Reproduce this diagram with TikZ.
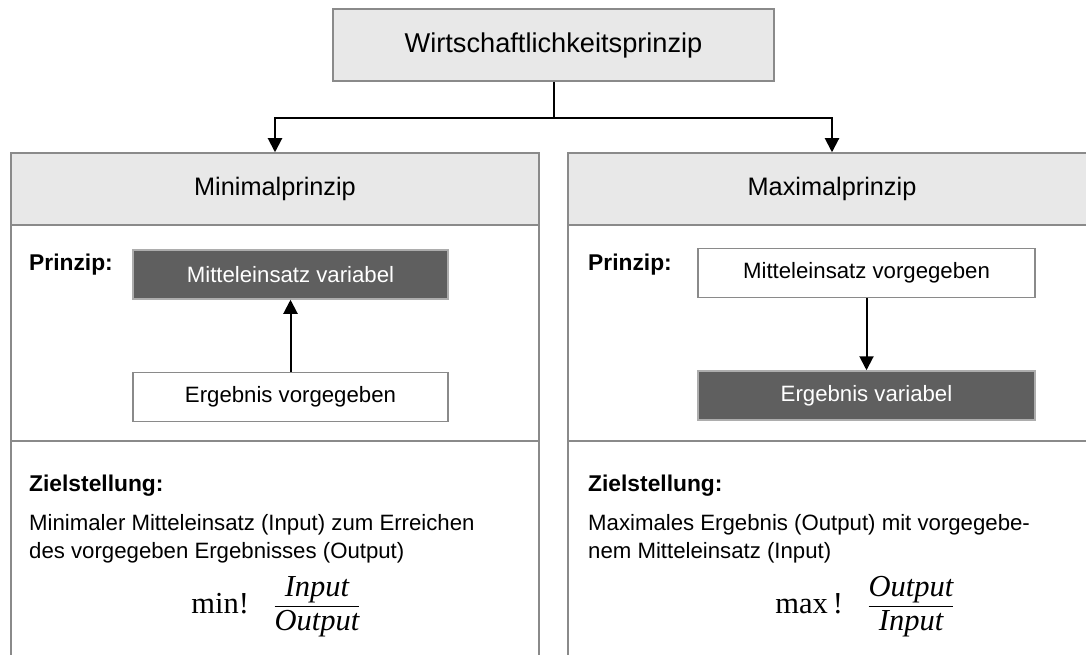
\documentclass[tikz,border=0pt]{standalone}
\usepackage{amsmath}
\usepackage{fontspec}
\setmainfont{Liberation Sans}
\newfontfamily\timesfont{Liberation Serif}
\usetikzlibrary{arrows.meta,positioning}
\definecolor{headgray}{HTML}{E8E8E8}
\definecolor{framegray}{HTML}{8A8A8A}
\definecolor{darkfill}{HTML}{5F5F5F}

\begin{document}
\begin{tikzpicture}[x=1pt,y=-1pt,>={Triangle[width=14pt,length=14pt]},
	headbox/.style={draw=framegray,fill=headgray,line width=1.5pt,minimum height=72pt,font=\fontsize{25.3}{30}\selectfont},
	colframe/.style={draw=framegray,line width=1.8pt},
	darkbox/.style={draw=framegray!70,fill=darkfill,text=white,line width=1.5pt,minimum height=49pt,font=\fontsize{22.2}{26}\selectfont},
	lightbox/.style={draw=framegray,fill=white,line width=1.5pt,minimum height=49pt,font=\fontsize{22.2}{26}\selectfont},
	sectitle/.style={font=\bfseries\fontsize{22.8}{26}\selectfont,anchor=base west,inner sep=0pt},
	bodytext/.style={font=\fontsize{22.2}{28}\selectfont,anchor=base west,align=left,inner sep=0pt},
	formula/.style={font=\timesfont\fontsize{30.5}{36}\selectfont,anchor=base,inner sep=0pt},
	link/.style={line width=2pt}]
	\useasboundingbox (0,0) rectangle (1086,655);
	\clip (0,0) rectangle (1086,655);
	% column frames
	\draw[colframe] (11,660) -- (11,153) -- (539,153) -- (539,660);
	\draw[colframe] (11,441) -- (539,441);
	\draw[colframe] (568,660) -- (568,153) -- (1096,153) -- (1096,660);
	\draw[colframe] (568,441) -- (1096,441);
	% headers
	\node[headbox,minimum width=441pt,font=\fontsize{27.2}{30}\selectfont] (wprinzip) at (553.5,45) {Wirtschaftlichkeitsprinzip};
	\node[headbox,minimum width=528pt] (minhead) at (275,189) {Minimalprinzip};
	\node[headbox,minimum width=528pt] (maxhead) at (832,189) {Maximalprinzip};
	\draw[link] (wprinzip.south) -- ++(0,36) coordinate (split);
	\draw[link,->] (split) -| (minhead.north);
	\draw[link,->] (split) -| (maxhead.north);
	% Minimalprinzip
	\node[sectitle] (minprinzip) at (29,270) {Prinzip:};
	\node[darkbox,minimum width=315pt] (minmittel) at (290.5,274.5) {Mitteleinsatz variabel};
	\node[lightbox,minimum width=315pt,below=72pt of minmittel] (minergebnis) {Ergebnis vorgegeben};
	\draw[link,->] (minergebnis) -- (minmittel);
	\node[sectitle] (minziel) at (29,491) {Zielstellung:};
	\node[bodytext] (mintext) at (29,558) {Minimaler Mitteleinsatz (Input) zum Erreichen\\des vorgegeben Ergebnisses (Output)};
	\node[formula] (minformel) at (276,613) {min!\hspace{0.8em}$\dfrac{\text{\itshape Input}}{\text{\itshape Output}}$};
	% Maximalprinzip
	\node[sectitle] (maxprinzip) at (588,270) {Prinzip:};
	\node[lightbox,minimum width=337pt] (maxmittel) at (866.5,273) {Mitteleinsatz vorgegeben};
	\node[darkbox,minimum width=337pt,below=72pt of maxmittel] (maxergebnis) {Ergebnis variabel};
	\draw[link,->] (maxmittel) -- (maxergebnis);
	\node[sectitle] (maxziel) at (588,491) {Zielstellung:};
	\node[bodytext] (maxtext) at (588,558) {Maximales Ergebnis (Output) mit vorgegebe-\\nem Mitteleinsatz (Input)};
	\node[formula] (maxformel) at (865,613) {max\,!\hspace{0.8em}$\dfrac{\text{\itshape Output}}{\text{\itshape Input}}$};
\end{tikzpicture}
\end{document}
